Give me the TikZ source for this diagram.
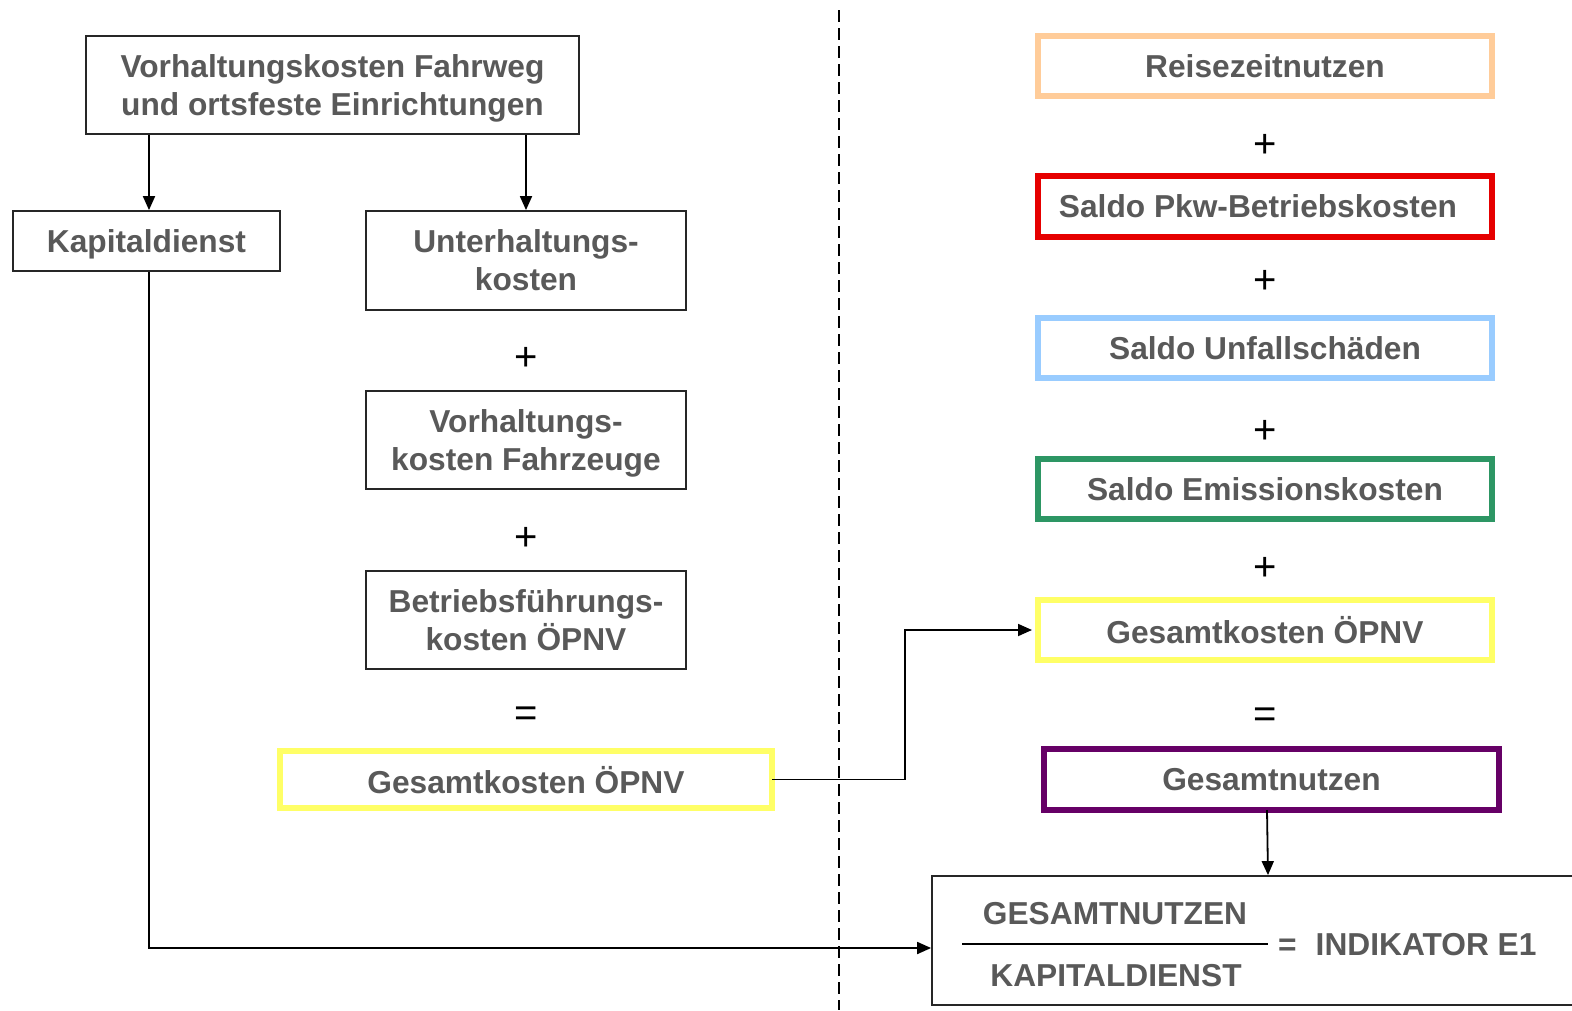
\documentclass[tikz,border=0pt]{standalone}
\usepackage{fontspec}
\setmainfont{Liberation Sans}
\usetikzlibrary{arrows.meta,calc}
\definecolor{txtgray}{RGB}{89,89,89}
\definecolor{corange}{RGB}{255,204,153}
\definecolor{cred}{RGB}{230,0,0}
\definecolor{cblue}{RGB}{153,204,255}
\definecolor{cgreen}{RGB}{45,150,100}
\definecolor{cyellow}{RGB}{255,255,102}
\definecolor{cpurple}{RGB}{102,0,102}
\begin{document}
\begin{tikzpicture}[x=1pt,y=-1pt,
  lbl/.style={font=\fontsize{31.7}{38}\selectfont\bfseries, text=txtgray, align=center, inner sep=0pt, text depth=0pt},
  bbox/.style={draw=black!85, line width=1.8pt, lbl},
  cbox/.style={draw=#1, line width=6pt, lbl, minimum width=454pt, minimum height=60pt},
  opsym/.style={font=\fontsize{40}{40}\selectfont, text=black, inner sep=0pt},
  arr/.style={line width=1.8pt, -{Triangle[length=14pt,width=12pt]}},
  conn/.style={line width=1.8pt}]
\useasboundingbox (0,0) rectangle (1572,1010);
\fill[white] (0,0) rectangle (1572,1010);

% dashed divider
\draw[line width=1.6pt, dash pattern=on 12pt off 6pt] (839,10) -- (839,1010);

% left column
\node[bbox, minimum width=493pt, minimum height=98pt] (top) at (332.5,85) {Vorhaltungskosten Fahrweg\\und ortsfeste Einrichtungen};
\node[bbox, minimum width=267pt, minimum height=60pt] (kap) at (146.5,241) {Kapitaldienst};
\node[bbox, minimum width=320pt, minimum height=99pt] (unt) at (526,260.5) {Unterhaltungs-\\kosten};
\node[opsym] (p1) at (526,359) {+};
\node[bbox, minimum width=320pt, minimum height=98pt] (vfz) at (526,440) {Vorhaltungs-\\kosten Fahrzeuge};
\node[opsym] (p2) at (526,539) {+};
\node[bbox, minimum width=320pt, minimum height=98pt] (bfk) at (526,620) {Betriebsführungs-\\kosten ÖPNV};
\node[opsym] (e1) at (526,717) {=};
\node[cbox=cyellow, minimum width=492pt, minimum height=57pt] (gkl) at (526,779.5) {Gesamtkosten ÖPNV};

% right column
\node[cbox=corange] (rz) at (1265,66) {Reisezeitnutzen};
\node[opsym] (p3) at (1265,146) {+};
\node[cbox=cred, minimum height=61pt] (pkw) at (1265,206.5) {};
\node[lbl] (pkwt) at (1258,206.5) {Saldo Pkw-Betriebskosten};
\node[opsym] (p4) at (1265,282) {+};
\node[cbox=cblue] (unf) at (1265,348) {Saldo Unfallschäden};
\node[opsym] (p5) at (1265,432) {+};
\node[cbox=cgreen] (emi) at (1265,489) {Saldo Emissionskosten};
\node[opsym] (p6) at (1265,569) {+};
\node[cbox=cyellow] (gkr) at (1265,630) {Gesamtkosten ÖPNV};
\node[opsym] (e2) at (1265,718) {=};
\node[cbox=cpurple, minimum width=455pt, minimum height=61pt] (gn) at (1271.5,779.5) {Gesamtnutzen};

% indicator box
\node[draw=black!85, line width=1.8pt, minimum width=700pt, minimum height=129pt, inner sep=0pt] (ind) at (1282,940.5) {};
\node[lbl] (num) at (1115,913) {GESAMTNUTZEN};
\node[lbl] (den) at (1116,975) {KAPITALDIENST};
\coordinate (fl) at (962,944);
\coordinate (fr) at (1268,944);
\draw[line width=1.8pt] (fl) -- (fr);
\node[lbl, anchor=west] (res) at (1278,944) {=\hspace{19pt}INDIKATOR E1};

% connectors
\draw[arr] ([xshift=2.5pt]top.south -| kap.north) -- ([xshift=2.5pt]kap.north);
\draw[arr] (top.south -| unt.north) -- (unt.north);
\coordinate (kb) at ($(kap.south)+(2.5,0)$);
\draw[arr] (kb) -- (kb |- 0,948) -- (ind.west |- 0,948);
\coordinate (bend) at (905,0);
\draw[arr] ([xshift=-3pt]gkl.east) -- (bend |- gkl.east) -- (bend |- gkr.west) -- ([xshift=-3pt]gkr.west);
\draw[arr] ([xshift=-4.5pt,yshift=3pt]gn.south) -- ([xshift=-3.5pt]gn.south |- ind.north);
\end{tikzpicture}
\end{document}
